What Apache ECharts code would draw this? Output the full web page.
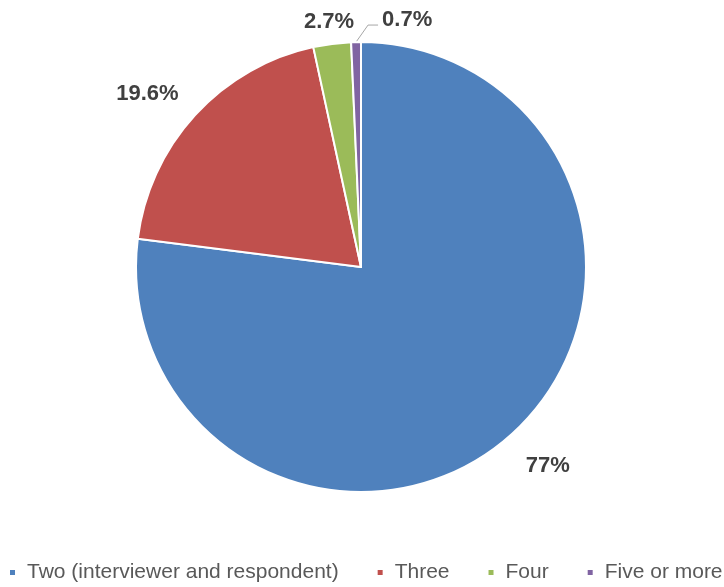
<!DOCTYPE html>
<html>
<head>
<meta charset="utf-8">
<script src="https://cdn.jsdelivr.net/npm/echarts@6/dist/echarts.min.js"></script>
<style>
  html, body { margin: 0; padding: 0; background: #fff; }
  #chart { width: 724px; height: 587px; }
</style>
</head>
<body>
<div id="chart"></div>
<script>
// Household members present during the interview
const categories = ['Two (interviewer and respondent)', 'Three', 'Four', 'Five or more'];
const shares = [77, 19.6, 2.7, 0.7];
const labels = ['77%', '19.6%', '2.7%', '0.7%'];
const colors = ['#4F81BD', '#C0504D', '#9BBB59', '#8064A2'];

const CX = 361, CY = 267, R = 225;
// distance of each label centre from the pie centre, plus a small nudge
const labelDist = [272, 276, 249];
const labelNudge = [[7, -5], [-10, 13], [0, 2]];

// mid-angle of each slice, clockwise from 12 o'clock, in radians
const total = shares.reduce((a, b) => a + b, 0);
const midAngles = [];
let acc = 0;
shares.forEach(v => {
  midAngles.push((acc + v / 2) / total * Math.PI * 2);
  acc += v;
});

const chart = echarts.init(document.getElementById('chart'));

const data = categories.map((name, i) => ({
  name,
  value: shares[i],
  label: { formatter: labels[i] },
  labelLine: { show: i === 3 }
}));

chart.setOption({
  animation: false,
  color: colors,
  legend: {
    bottom: 4,
    left: 8,
    padding: 0,
    itemWidth: 7,
    itemHeight: 7,
    itemGap: 37,
    icon: 'rect',
    textStyle: {
      color: '#595959', fontSize: 21,
      fontFamily: 'Liberation Sans, Arial, sans-serif',
      padding: [0, 0, 0, 6]
    },
    data: categories
  },
  series: [{
    type: 'pie',
    center: [CX, CY],
    radius: [0, R],
    startAngle: 90,
    clockwise: true,
    avoidLabelOverlap: false,
    itemStyle: { borderColor: '#fff', borderWidth: 2 },
    label: {
      show: true,
      position: 'outside',
      color: '#404040',
      fontSize: 22,
      fontWeight: 'bold',
      fontFamily: 'Liberation Sans, Arial, sans-serif'
    },
    labelLine: {
      length: 12,
      length2: 10,
      lineStyle: { color: '#A6A6A6', width: 1 }
    },
    labelLayout: function (p) {
      const i = p.dataIndex;
      const a = midAngles[i];
      if (i < 3) {
        return {
          x: CX + labelDist[i] * Math.sin(a) + labelNudge[i][0],
          y: CY - labelDist[i] * Math.cos(a) + labelNudge[i][1],
          align: 'center',
          verticalAlign: 'middle',
          hideOverlap: false
        };
      }
      // thin slice: leader line runs up and to the right
      const sx = CX + R * Math.sin(a);
      const sy = CY - R * Math.cos(a);
      const ex = sx + 12, ey = sy - 17;
      const tx = ex + 10;
      return {
        x: tx + 4,
        y: ey - 5,
        align: 'left',
        verticalAlign: 'middle',
        hideOverlap: false,
        labelLinePoints: [[sx, sy], [ex, ey], [tx, ey]]
      };
    },
    data
  }]
});
</script>
</body>
</html>
